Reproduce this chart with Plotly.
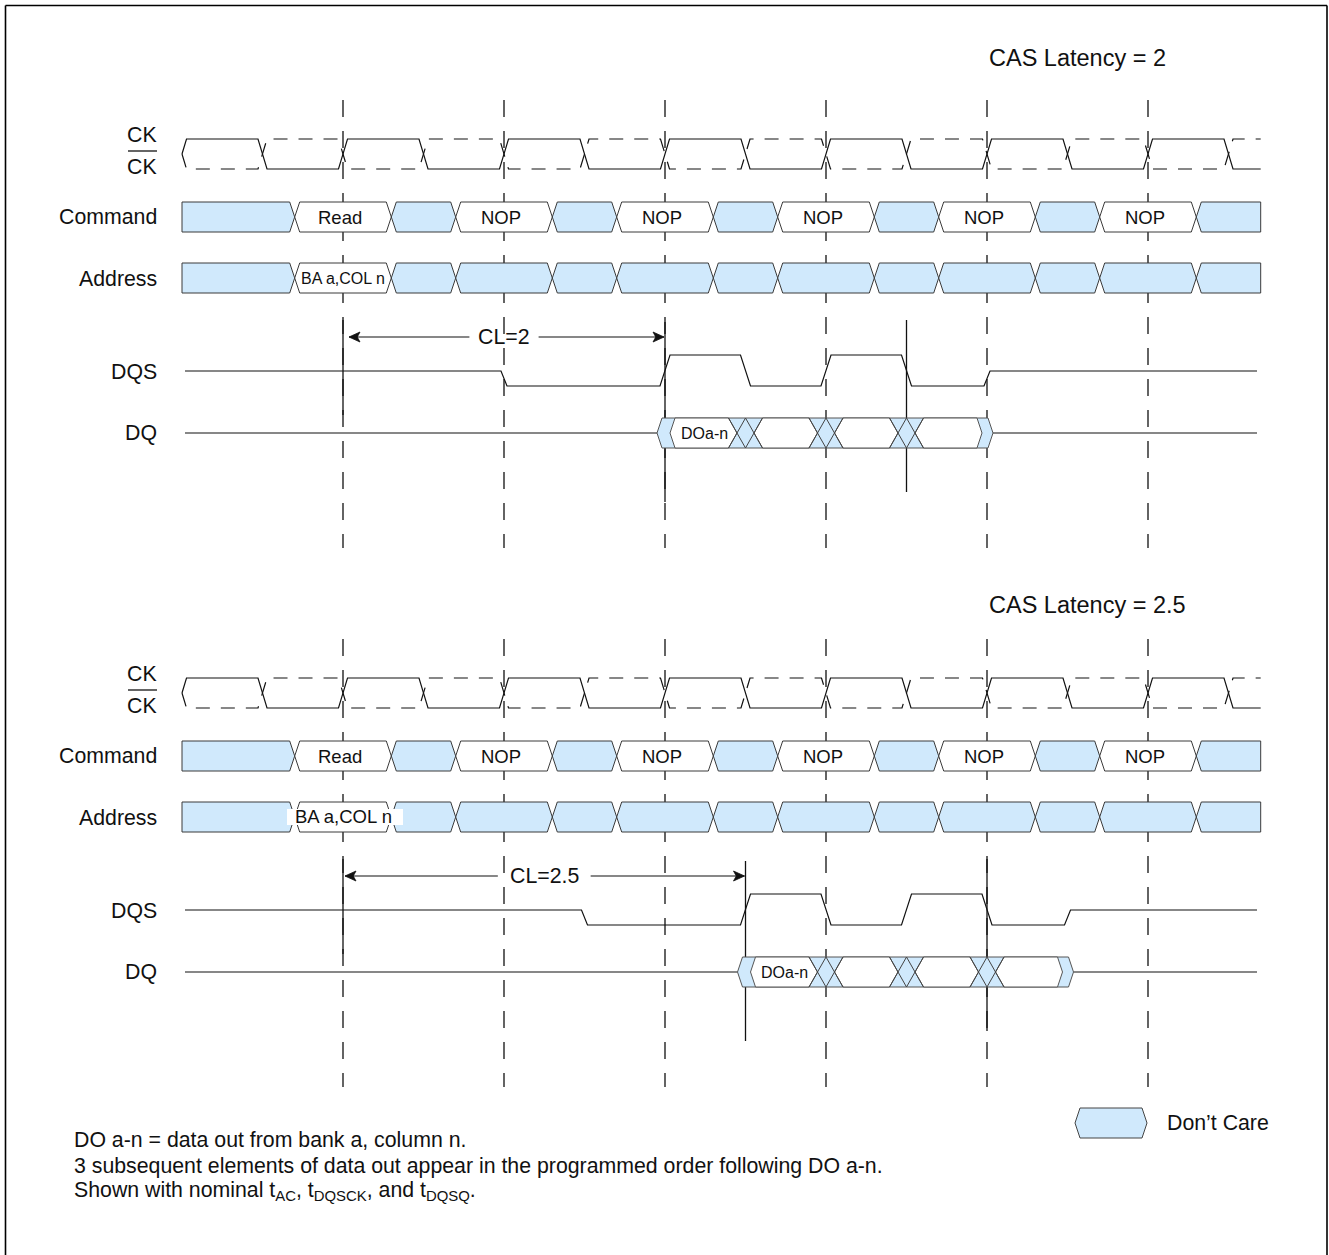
import plotly.graph_objects as go

# ---------------- timing data (in clock cycles, T0 = READ command edge) ----------------
CLOCK_START, CLOCK_END = -1.0, 5.7
COMMAND_CYCLES = [0, 1, 2, 3, 4, 5]
COMMANDS = ["Read", "NOP", "NOP", "NOP", "NOP", "NOP"]
ADDRESSES = ["BA a,COL n", None, None, None, None, None]
VALID_HALF = 0.3                      # command / address valid half window
CAS_LATENCIES = [2, 2.5]
BURST_LENGTH = 4
DATA_LABEL = "DOa-n"
TITLES = ["CAS Latency = 2", "CAS Latency = 2.5"]
CL_LABELS = ["CL=2", "CL=2.5"]
ROW_LABELS = ["Command", "Address", "DQS", "DQ"]
LEGEND_LABEL = "Don\u2019t Care"
NOTES = [
    "DO a-n = data out from bank a, column n.",
    "3 subsequent elements of data out appear in the programmed order following DO a-n.",
    "Shown with nominal t<sub>AC</sub>, t<sub>DQSCK</sub>, and t<sub>DQSQ</sub>.",
]

# ---------------- page geometry ----------------
W, H = 1329, 1255
T0_PX, PERIOD_PX = 343.0, 161.0
PANEL_SHIFT = [0, 539]                 # vertical offset of each panel
LINE_START_PX, LINE_END_PX = 185, 1257

# row positions of the upper panel (pixels from the top of the page)
Y_TITLE = 58
Y_CK_HI, Y_CK_LO = 139, 169
Y_CMD = (202, 232)
Y_ADDR = (263, 293)
Y_ARROW = 337
Y_DQS_HI, Y_DQS_MID, Y_DQS_LO = 355, 371, 386
Y_DQ = (418, 448)
Y_GRID = (100, 548)

FONT = "Arial, 'Liberation Sans', sans-serif"
INK = "#111111"
EDGE = "#3a3a3a"
BLUE = "#d0e9fc"
LABEL_SIZE = 21.3


def dx(px):
    return px / PERIOD_PX


def to_cyc(px):
    return (px - T0_PX) / PERIOD_PX


traces, shapes, annotations = [], [], []


def add_line(xs, ys, width=1.3, color=INK, dash=None):
    traces.append(go.Scatter(x=xs, y=ys, mode="lines",
                             line=dict(color=color, width=width, dash=dash),
                             hoverinfo="skip", showlegend=False))


def add_poly(xs, ys, fill, color=EDGE, width=1.0):
    traces.append(go.Scatter(x=xs + [xs[0]], y=ys + [ys[0]], mode="lines",
                             fill="toself", fillcolor=fill,
                             line=dict(color=color, width=width),
                             hoverinfo="skip", showlegend=False))


def hexagon(a, b, top, bot, hl, hr):
    """Bus segment outline; hl/hr = None gives a flat end."""
    mid = (top + bot) / 2
    xs, ys = [], []
    if hl is None:
        xs += [a, a]; ys += [bot, top]
    else:
        xs += [a + hl, a, a + hl]; ys += [bot, mid, top]
    if hr is None:
        xs += [b, b]; ys += [top, bot]
    else:
        xs += [b - hr, b, b - hr]; ys += [top, mid, bot]
    return xs, ys


def text(x_px, y_px, s, size, anchor="center"):
    # annotation boxes carry a few pixels of padding; compensate for it
    shift = {"left": -3, "right": 2, "center": 0}[anchor]
    annotations.append(dict(x=(x_px + shift) / W, y=1 - y_px / H, xref="paper", yref="paper",
                            text=s, showarrow=False, xanchor=anchor, yanchor="middle",
                            font=dict(family=FONT, size=size, color=INK)))


def arrow(tip, tail, y):
    """Horizontal dimension arrow with a filled head at `tip`."""
    add_line([tail, tip], [y, y], width=1.2)
    sgn = 1 if tip > tail else -1
    L, hw = dx(11), 5
    add_poly([tip, tip - sgn * L, tip - sgn * L * 0.75, tip - sgn * L],
             [y, y - hw, y, y + hw], INK, color=INK, width=0.8)


def bus_row(top, bot, labels):
    bounds = [CLOCK_START]
    for c in COMMAND_CYCLES:
        bounds += [c - VALID_HALF, c + VALID_HALF]
    bounds.append(CLOCK_END)
    h = dx(5)
    for i in range(len(bounds) - 1):
        a, b = bounds[i], bounds[i + 1]
        hl = None if i == 0 else h
        hr = None if i == len(bounds) - 2 else h
        lab = labels[(i - 1) // 2] if i % 2 == 1 else None
        xs, ys = hexagon(a, b, top, bot, hl, hr)
        add_poly(xs, ys, "white" if lab else BLUE)


def clock_row(top, bot, inverted, dash):
    mid = (top + bot) / 2
    d = dx(4.5)
    hi, lo = (bot, top) if inverted else (top, bot)
    level = hi
    xs, ys = [CLOCK_START, CLOCK_START + d], [mid, level]
    e = CLOCK_START + 0.5
    while e < CLOCK_END:
        new = lo if level == hi else hi
        xs += [e - d, e + d]; ys += [level, new]
        level = new
        e += 0.5
    xs.append(CLOCK_END); ys.append(level)
    add_line(xs, ys, width=1.2, dash=dash)


def dqs_row(cl, hi, mid, lo):
    d_half, d_full = dx(3), dx(5)
    xs = [to_cyc(LINE_START_PX), cl - 1 - d_half, cl - 1 + d_half]
    ys = [mid, mid, lo]
    level = lo
    for i in range(BURST_LENGTH):
        e = cl + 0.5 * i
        new = hi if level == lo else lo
        xs += [e - d_full, e + d_full]; ys += [level, new]
        level = new
    end = cl + BURST_LENGTH / 2
    xs += [end - d_half, end + d_half, to_cyc(LINE_END_PX)]
    ys += [level, mid, mid]
    add_line(xs, ys, width=1.2)


def dq_row(cl, top, bot):
    mid = (top + bot) / 2
    end = cl + BURST_LENGTH / 2
    s, f = cl - dx(8), end + dx(6)
    add_line([to_cyc(LINE_START_PX), s], [mid, mid], width=1.2)
    add_line([f, to_cyc(LINE_END_PX)], [mid, mid], width=1.2)
    # don't-care background of the burst
    xs, ys = hexagon(s, f, top, bot, dx(5), dx(5))
    add_poly(xs, ys, BLUE, color="#555555")
    # valid data windows
    edges = [cl + 0.5 * i for i in range(BURST_LENGTH + 1)]
    w, hw = dx(17), dx(8.5)
    for i in range(BURST_LENGTH):
        a = edges[i] + (dx(5) if i == 0 else hw)
        b = edges[i + 1] - (dx(5) if i == BURST_LENGTH - 1 else hw)
        ha = dx(5) if i == 0 else hw
        hb = dx(5) if i == BURST_LENGTH - 1 else hw
        xs, ys = hexagon(a, b, top, bot, ha, hb)
        add_poly(xs, ys, "white", color="#555555")
    # crossing marks between words
    for e in edges[1:-1]:
        for a0, a1 in ((e - w, e), (e, e + w)):
            add_line([a0, a1], [top, bot], width=1.0, color="#444444")
            add_line([a0, a1], [bot, top], width=1.0, color="#444444")
    first_mid = (edges[0] + edges[1]) / 2
    text(T0_PX + first_mid * PERIOD_PX - 1, mid, DATA_LABEL, 16)


for p, cl in enumerate(CAS_LATENCIES):
    o = PANEL_SHIFT[p]

    # clock-edge reference lines
    for c in COMMAND_CYCLES:
        add_line([c, c], [Y_GRID[0] + o, Y_GRID[1] + o], width=1.3, dash="17px,14px")
    markers = [(0, 320, 415), (cl, 322, 502), (cl + 1.5, 320, 492)]
    for c, y0, y1 in markers:
        add_line([c, c], [y0 + o, y1 + o], width=1.3)

    clock_row(Y_CK_HI + o, Y_CK_LO + o, False, None)
    clock_row(Y_CK_HI + o, Y_CK_LO + o, True, "14px,11px")
    bus_row(Y_CMD[0] + o, Y_CMD[1] + o, COMMANDS)
    bus_row(Y_ADDR[0] + o, Y_ADDR[1] + o, ADDRESSES)
    dqs_row(cl, Y_DQS_HI + o, Y_DQS_MID + o, Y_DQS_LO + o)
    dq_row(cl, Y_DQ[0] + o, Y_DQ[1] + o)

    # bus labels
    ymid_cmd = (Y_CMD[0] + Y_CMD[1]) / 2 + o
    ymid_addr = (Y_ADDR[0] + Y_ADDR[1]) / 2 + o
    for c, lab in zip(COMMAND_CYCLES, COMMANDS):
        text(T0_PX + c * PERIOD_PX - 3, ymid_cmd, lab, 18.5)
    for c, lab in zip(COMMAND_CYCLES, ADDRESSES):
        if lab:
            if p == 0:
                text(T0_PX + c * PERIOD_PX, ymid_addr, lab, 16)
            else:
                shapes.append(dict(type="rect", xref="paper", yref="paper",
                                   x0=287 / W, x1=403 / W,
                                   y0=1 - (ymid_addr - 8) / H, y1=1 - (ymid_addr + 8) / H,
                                   fillcolor="white", line=dict(width=0), layer="above"))
                text(T0_PX + c * PERIOD_PX, ymid_addr - 1, lab, 18.5)

    # CAS latency dimension
    half_gap = dx(len(CL_LABELS[p]) * 5.9 + 11)
    cmid = cl / 2
    arrow(dx(6) if p == 0 else dx(2), cmid - half_gap, Y_ARROW + o)
    arrow(cl - dx(1), cmid + half_gap, Y_ARROW + o)
    text(T0_PX + cmid * PERIOD_PX, Y_ARROW + o, CL_LABELS[p], LABEL_SIZE)

    # row names and titles
    text(990, Y_TITLE + o + (8 if p else 0), TITLES[p], 23.5, anchor="left")
    text(157, 135 + o, "CK", LABEL_SIZE, anchor="right")
    text(157, 167 + o, "CK", LABEL_SIZE, anchor="right")
    shapes.append(dict(type="line", xref="paper", yref="paper",
                       x0=128 / W, x1=157 / W, y0=1 - (151 + o) / H, y1=1 - (151 + o) / H,
                       line=dict(color=INK, width=1.3)))
    for lab, y in zip(ROW_LABELS, [217, 279, 372, 433]):
        text(157, y + o, lab, LABEL_SIZE, anchor="right")

# legend
lx0, lx1 = to_cyc(1075), to_cyc(1147)
xs, ys = hexagon(lx0, lx1, 1108, 1138, dx(5), dx(5))
add_poly(xs, ys, BLUE, color="#444444")
text(1168, 1123, LEGEND_LABEL, LABEL_SIZE, anchor="left")

# footnotes
for i, note in enumerate(NOTES):
    text(75, 1140 + 25.5 * i, note, LABEL_SIZE, anchor="left")

# outer frame
for x0, y0, x1, y1 in ((5.5, 5.5, 1327, 5.5), (5.5, 5.5, 5.5, 1260), (1327, 5.5, 1327, 1260)):
    shapes.append(dict(type="line", xref="paper", yref="paper",
                       x0=x0 / W, x1=x1 / W, y0=1 - y0 / H, y1=1 - y1 / H,
                       line=dict(color="black", width=1.6)))

fig = go.Figure(traces)
fig.update_layout(
    width=W, height=H, margin=dict(l=0, r=0, t=0, b=0),
    paper_bgcolor="white", plot_bgcolor="white",
    xaxis=dict(range=[to_cyc(0), to_cyc(W)], visible=False, fixedrange=True),
    yaxis=dict(range=[H, 0], visible=False, fixedrange=True),
    shapes=shapes, annotations=annotations, showlegend=False,
)
fig.write_html("out.html")
